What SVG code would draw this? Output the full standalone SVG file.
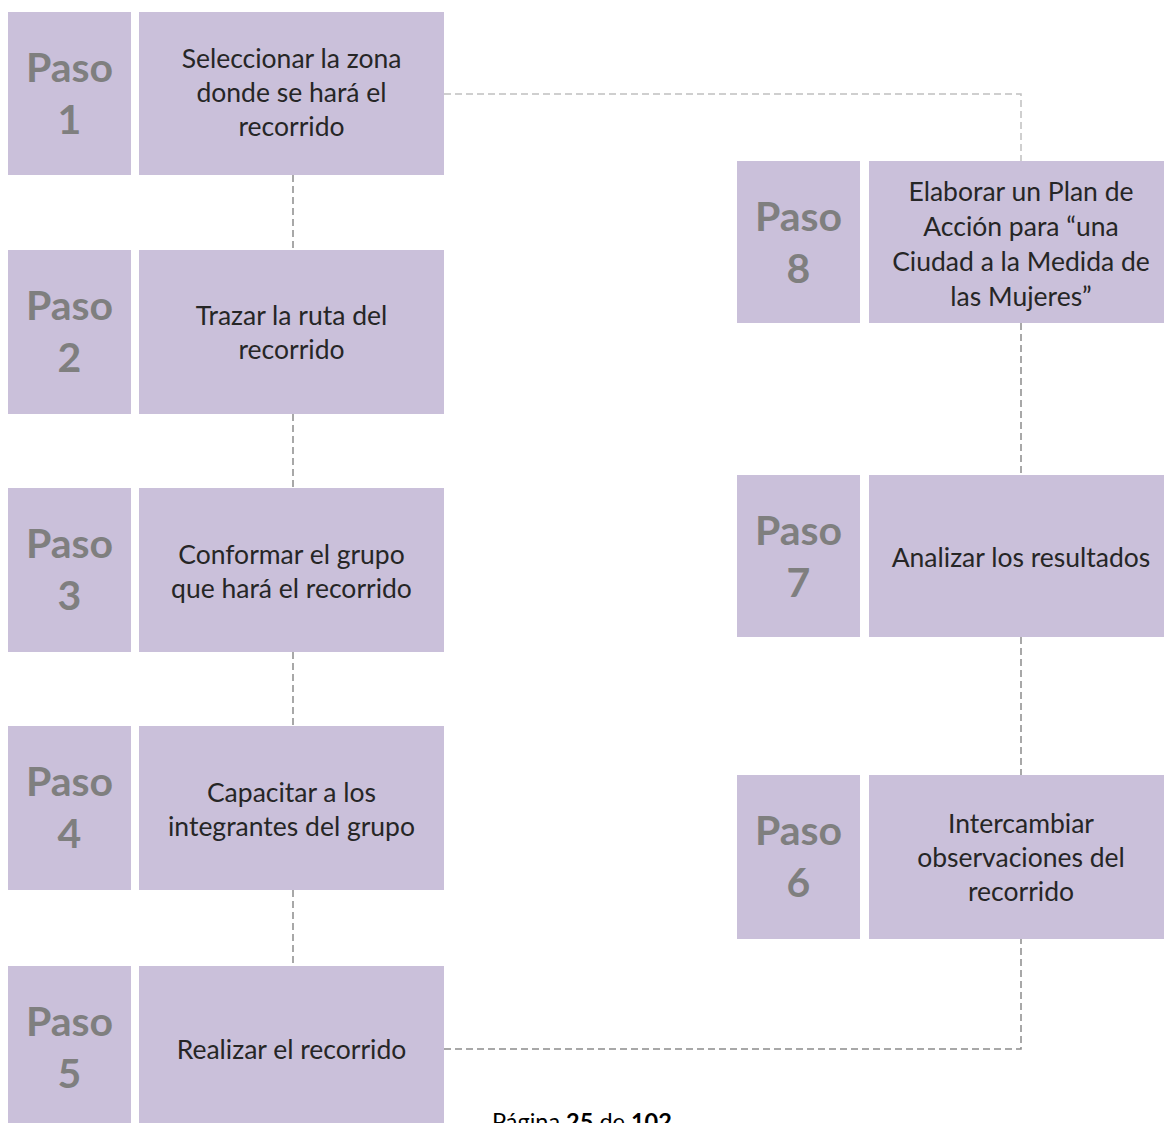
<svg xmlns="http://www.w3.org/2000/svg" width="1164" height="1123" viewBox="0 0 1164 1123">
<style>
.box{fill:#cac0da}
.paso{font-family:Lato,"Liberation Sans",sans-serif;font-weight:bold;font-size:41px;fill:#7f7f7f;text-anchor:middle}
.txt{font-family:Lato,"Liberation Sans",sans-serif;font-size:26.5px;fill:#262626;text-anchor:middle}
.c{fill:none;stroke:#8c8c8c;stroke-width:1.5;stroke-dasharray:7 4}
.cl{fill:none;stroke:#c0c0c0;stroke-width:1.5;stroke-dasharray:7 4}
.foot{font-family:Lato,"Liberation Sans",sans-serif;font-size:23.5px;fill:#000}
</style>
<rect width="1164" height="1123" fill="#fff"/>
<g id="connectors">
<path class="cl" d="M444,94 H1021 V161"/>
<path class="c" d="M293,175 V250"/>
<path class="c" d="M293,414 V488"/>
<path class="c" d="M293,652 V726"/>
<path class="c" d="M293,890 V966"/>
<path class="c" d="M444,1049 H1021 V939"/>
<path class="c" d="M1021,323 V475"/>
<path class="c" d="M1021,637 V775"/>
</g>
<g id="paso1">
<rect class="box" x="8" y="12" width="123" height="163"/>
<rect class="box" x="139" y="12" width="305" height="163"/>
<text class="paso" x="69.5" y="82">Paso</text>
<text class="paso" x="69.5" y="134">1</text>
<text class="txt" x="291.5" y="68">Seleccionar la zona</text>
<text class="txt" x="291.5" y="102">donde se hará el</text>
<text class="txt" x="291.5" y="136">recorrido</text>
</g>
<g id="paso2">
<rect class="box" x="8" y="250" width="123" height="164"/>
<rect class="box" x="139" y="250" width="305" height="164"/>
<text class="paso" x="69.5" y="320">Paso</text>
<text class="paso" x="69.5" y="372">2</text>
<text class="txt" x="291.5" y="325">Trazar la ruta del</text>
<text class="txt" x="291.5" y="359">recorrido</text>
</g>
<g id="paso3">
<rect class="box" x="8" y="488" width="123" height="164"/>
<rect class="box" x="139" y="488" width="305" height="164"/>
<text class="paso" x="69.5" y="558">Paso</text>
<text class="paso" x="69.5" y="610">3</text>
<text class="txt" x="291.5" y="564">Conformar el grupo</text>
<text class="txt" x="291.5" y="598">que hará el recorrido</text>
</g>
<g id="paso4">
<rect class="box" x="8" y="726" width="123" height="164"/>
<rect class="box" x="139" y="726" width="305" height="164"/>
<text class="paso" x="69.5" y="796">Paso</text>
<text class="paso" x="69.5" y="848">4</text>
<text class="txt" x="291.5" y="802">Capacitar a los</text>
<text class="txt" x="291.5" y="836">integrantes del grupo</text>
</g>
<g id="paso5">
<rect class="box" x="8" y="966" width="123" height="164"/>
<rect class="box" x="139" y="966" width="305" height="164"/>
<text class="paso" x="69.5" y="1036">Paso</text>
<text class="paso" x="69.5" y="1088">5</text>
<text class="txt" x="291.5" y="1059">Realizar el recorrido</text>
</g>
<g id="paso8">
<rect class="box" x="737" y="161" width="123" height="162"/>
<rect class="box" x="869" y="161" width="305" height="162"/>
<text class="paso" x="798.5" y="231">Paso</text>
<text class="paso" x="798.5" y="283">8</text>
<text class="txt" x="1021" y="201">Elaborar un Plan de</text>
<text class="txt" x="1021" y="236">Acción para “una</text>
<text class="txt" x="1021" y="271">Ciudad a la Medida de</text>
<text class="txt" x="1021" y="306">las Mujeres”</text>
</g>
<g id="paso7">
<rect class="box" x="737" y="475" width="123" height="162"/>
<rect class="box" x="869" y="475" width="305" height="162"/>
<text class="paso" x="798.5" y="545">Paso</text>
<text class="paso" x="798.5" y="597">7</text>
<text class="txt" x="1021" y="567">Analizar los resultados</text>
</g>
<g id="paso6">
<rect class="box" x="737" y="775" width="123" height="164"/>
<rect class="box" x="869" y="775" width="305" height="164"/>
<text class="paso" x="798.5" y="845">Paso</text>
<text class="paso" x="798.5" y="897">6</text>
<text class="txt" x="1021" y="833">Intercambiar</text>
<text class="txt" x="1021" y="867">observaciones del</text>
<text class="txt" x="1021" y="901">recorrido</text>
</g>
<text class="foot" x="492" y="1130">Página <tspan font-weight="bold">25</tspan> de <tspan font-weight="bold">102</tspan></text>
</svg>
